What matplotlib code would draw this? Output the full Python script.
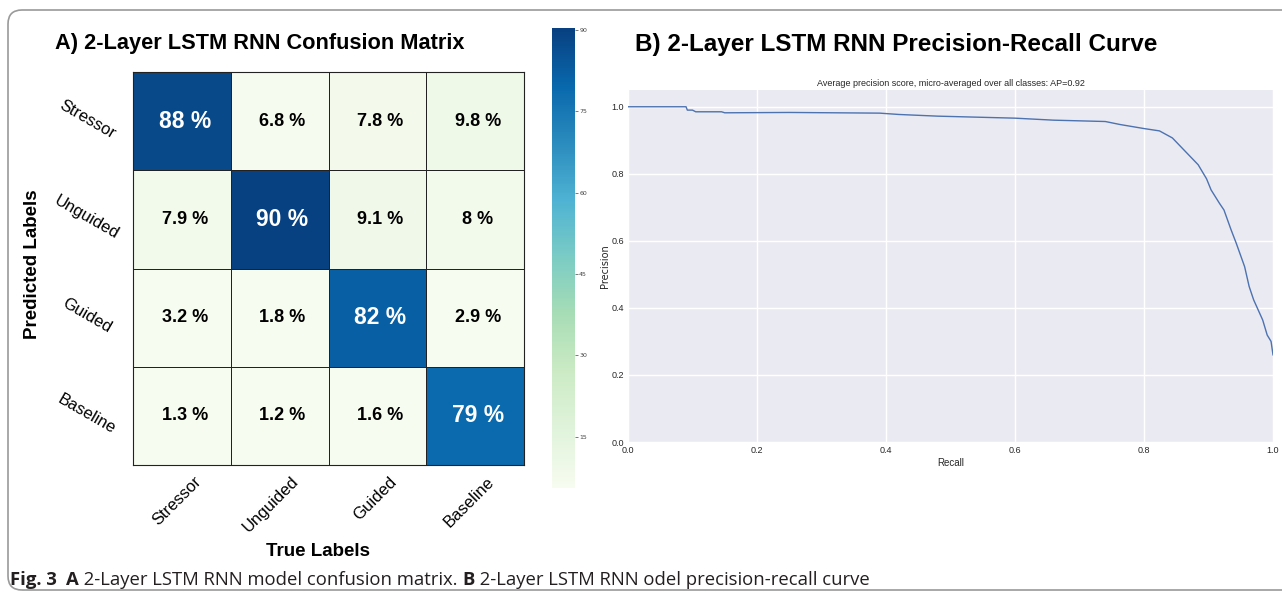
import matplotlib
matplotlib.use('Agg')
import numpy as np
import matplotlib.pyplot as plt
from matplotlib.patches import FancyBboxPatch
from matplotlib.transforms import IdentityTransform

# confusion matrix (rows = predicted, cols = true), percent
classes = ['Stressor', 'Unguided', 'Guided', 'Baseline']
cm_values = [
    [88, 6.8, 7.8, 9.8],
    [7.9, 90, 9.1, 8],
    [3.2, 1.8, 82, 2.9],
    [1.3, 1.2, 1.6, 79],
]
cbar_ticks = [15, 30, 45, 60, 75, 90]

# precision-recall curve
recall = [0.0, 0.09, 0.092, 0.10, 0.105, 0.145, 0.15, 0.25, 0.39, 0.42, 0.48,
          0.60, 0.66, 0.74, 0.763, 0.80, 0.824, 0.844, 0.864, 0.884, 0.897,
          0.904, 0.917, 0.924, 0.935, 0.943, 0.956, 0.963, 0.970, 0.977,
          0.984, 0.991, 0.997, 1.0]
precision = [1.0, 1.0, 0.99, 0.99, 0.985, 0.985, 0.982, 0.983, 0.981, 0.977,
             0.972, 0.966, 0.96, 0.956, 0.947, 0.935, 0.928, 0.907, 0.867,
             0.827, 0.785, 0.752, 0.712, 0.692, 0.633, 0.593, 0.523, 0.464,
             0.424, 0.394, 0.364, 0.319, 0.30, 0.26]
ap_score = 0.92

W, H = 1282, 599
SANS = ['Liberation Sans', 'DejaVu Sans']


def px(x, y, w, h):
    # pixel box (top-left origin) -> figure fraction
    return [x / W, 1 - (y + h) / H, w / W, h / H]


def draw_confusion(fig):
    ax = fig.add_axes(px(133, 72, 391, 393))
    vals = np.array(cm_values, dtype=float)
    mesh = ax.pcolormesh(vals, cmap='GnBu', vmin=5.5, vmax=90.4,
                         edgecolors='#222222', linewidth=0.6)
    ax.set_xlim(0, 4)
    ax.set_ylim(4, 0)
    ax.set_xticks([])
    ax.set_yticks([])
    for s in ax.spines.values():
        s.set_color('#222222')
        s.set_linewidth(0.8)

    for i in range(4):
        for j in range(4):
            v = vals[i, j]
            diag = i == j
            ax.text(j + 0.53, i + 0.5, f'{v:g} %', ha='center', va='center',
                    color='white' if diag else 'black',
                    fontsize=16.5 if diag else 13, fontweight='bold',
                    family=SANS)

    # tick labels placed by hand so they sit like the original
    for k, name in enumerate(classes):
        ax.annotate(name, xy=(0, k + 0.48), xycoords='data',
                    xytext=(-46, 0), textcoords='offset pixels',
                    rotation=-30, ha='center', va='center',
                    fontsize=12, family=SANS)
        ax.annotate(name, xy=(k + 0.5, 4), xycoords='data',
                    xytext=(22, -9), textcoords='offset pixels',
                    rotation=45, ha='right', va='top',
                    fontsize=12, family=SANS)

    cax = fig.add_axes(px(552, 28, 23, 460))
    cb = fig.colorbar(mesh, cax=cax, ticks=cbar_ticks)
    cb.outline.set_visible(False)
    cax.tick_params(labelsize=4.5, length=2, width=0.5, colors='#444444', pad=1)

    fig.text(55 / W, 1 - 43 / H, 'A) 2-Layer LSTM RNN Confusion Matrix',
             fontsize=15.7, fontweight='bold', va='center', family=SANS)
    fig.text(33 / W, 1 - 264 / H, 'Predicted Labels', rotation=90,
             fontsize=13.5, fontweight='bold', ha='center', va='center',
             family=SANS)
    fig.text(318 / W, 1 - 552 / H, 'True Labels', fontsize=13.5,
             fontweight='bold', ha='center', va='center', family=SANS)


def draw_pr(fig):
    ax = fig.add_axes(px(628, 90, 645, 352))
    ax.set_facecolor('#eaeaf2')
    for s in ax.spines.values():
        s.set_visible(False)
    ax.grid(True, color='white', linewidth=1)
    ax.set_axisbelow(True)
    ax.plot(recall, precision, color='#4c72b0', linewidth=1)
    ax.set_xlim(0.0, 1.0)
    ax.set_ylim(0.0, 1.05)
    ticks = [0.0, 0.2, 0.4, 0.6, 0.8, 1.0]
    ax.set_xticks(ticks)
    ax.set_yticks(ticks)
    ax.set_xticklabels([f'{t:.1f}' for t in ticks], family=SANS)
    ax.set_yticklabels([f'{t:.1f}' for t in ticks], family=SANS)
    ax.tick_params(length=0, labelsize=6.5, colors='#262626', pad=3)
    ax.set_title(f'Average precision score, micro-averaged over all classes: '
                 f'AP={ap_score:.2f}', fontsize=6.5, color='#262626',
                 family=SANS, pad=3)
    ax.set_xlabel('Recall', fontsize=7, color='#262626', family=SANS,
                  labelpad=2)
    ax.set_ylabel('Precision', fontsize=7, color='#262626',
                  family='DejaVu Sans', labelpad=1)

    fig.text(635 / W, 1 - 44 / H, 'B) 2-Layer LSTM RNN Precision-Recall Curve',
             fontsize=17.5, fontweight='bold', va='center', family=SANS)


def draw_caption(fig):
    parts = [('Fig. 3', 'bold'), ('  ', 'normal'), ('A', 'bold'),
             (' 2-Layer LSTM RNN model confusion matrix. ', 'normal'),
             ('B', 'bold'),
             (' 2-Layer LSTM RNN odel precision-recall curve', 'normal')]
    fig.canvas.draw()
    r = fig.canvas.get_renderer()
    x = 10
    for txt, wt in parts:
        t = fig.text(x / W, 1 - 580 / H, txt, fontsize=13.3, fontweight=wt,
                     family=['Open Sans', 'DejaVu Sans'], va='center',
                     color='#231f20')
        x += t.get_window_extent(renderer=r).width


def main():
    fig = plt.figure(figsize=(W / 100, H / 100), dpi=100)
    frame = FancyBboxPatch((8, 9), 1320, 580,
                           boxstyle='round,pad=0,rounding_size=14',
                           transform=IdentityTransform(), fill=False,
                           edgecolor='#9a9a9a', linewidth=1.2)
    fig.add_artist(frame)
    draw_confusion(fig)
    draw_pr(fig)
    draw_caption(fig)
    fig.savefig('out.png', dpi=100)


if __name__ == '__main__':
    main()
